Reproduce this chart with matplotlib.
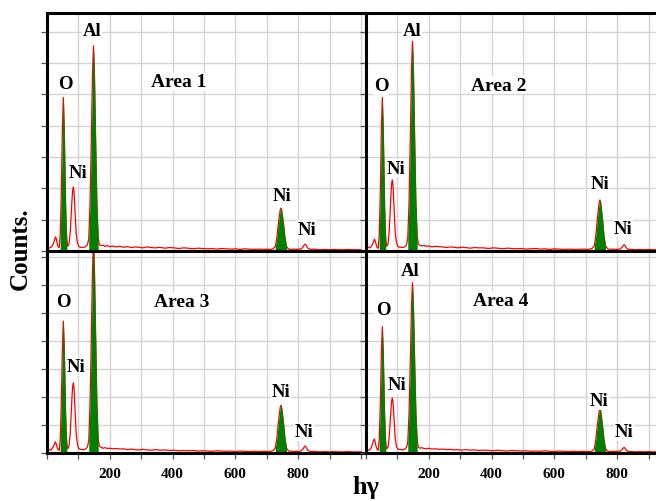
import matplotlib
matplotlib.use("Agg")
import matplotlib.pyplot as plt
import numpy as np

# ---------------- data ----------------
energy = [
    0, 4, 8, 12, 16, 20, 24, 27, 30, 33,
    36, 39, 42, 45, 47, 49, 52, 55, 57, 59,
    61, 63, 66, 70, 74, 77, 80, 82, 84, 86,
    88, 90, 93, 97, 101, 106, 112, 118, 124, 129,
    133, 137, 140, 143, 145, 148, 151, 153, 156, 159,
    163, 167, 172, 178, 185, 192, 200, 210, 220, 232,
    244, 256, 268, 280, 292, 305, 318, 332, 346, 360,
    375, 390, 405, 420, 435, 450, 465, 480, 495, 510,
    525, 540, 555, 570, 585, 600, 615, 630, 645, 660,
    675, 690, 702, 712, 720, 727, 732, 736, 740, 743,
    745, 747, 750, 754, 758, 763, 770, 778, 786, 794,
    802, 810, 815, 819, 822, 825, 829, 834, 840, 848,
    858, 870, 885, 900, 915, 930, 945, 960, 975, 990,
    1000]

counts_area1 = [
    0.06, 0.08, 0.10, 0.12, 0.15, 0.22, 0.35, 0.45, 0.38, 0.20,
    0.12, 0.12, 0.50, 1.60, 2.75, 3.90, 4.90, 3.90, 2.75, 1.60,
    0.80, 0.35, 0.15, 0.22, 0.60, 1.15, 1.70, 1.95, 2.04, 1.90,
    1.50, 1.05, 0.55, 0.25, 0.15, 0.12, 0.11, 0.12, 0.15, 0.20,
    0.40, 1.50, 2.95, 4.60, 5.70, 6.55, 5.70, 4.60, 2.95, 1.50,
    0.45, 0.20, 0.17, 0.19, 0.15, 0.17, 0.14, 0.16, 0.13, 0.15,
    0.12, 0.14, 0.11, 0.13, 0.12, 0.10, 0.13, 0.11, 0.10, 0.12,
    0.09, 0.11, 0.10, 0.08, 0.10, 0.09, 0.07, 0.09, 0.08, 0.07,
    0.08, 0.06, 0.08, 0.07, 0.06, 0.07, 0.05, 0.07, 0.06, 0.05,
    0.06, 0.05, 0.06, 0.05, 0.07, 0.14, 0.42, 0.80, 1.12, 1.32,
    1.37, 1.32, 1.12, 0.80, 0.42, 0.14, 0.06, 0.05, 0.06, 0.05,
    0.06, 0.07, 0.12, 0.19, 0.22, 0.19, 0.11, 0.07, 0.05, 0.06,
    0.05, 0.04, 0.05, 0.04, 0.05, 0.04, 0.04, 0.05, 0.04, 0.04,
    0.04]

counts_area2 = [
    0.08, 0.10, 0.12, 0.10, 0.14, 0.20, 0.30, 0.38, 0.30, 0.18,
    0.10, 0.09, 0.50, 1.60, 2.75, 3.90, 4.90, 3.90, 2.75, 1.60,
    0.80, 0.35, 0.15, 0.22, 0.65, 1.28, 1.90, 2.17, 2.27, 2.12,
    1.67, 1.17, 0.60, 0.27, 0.15, 0.12, 0.12, 0.11, 0.14, 0.20,
    0.41, 1.53, 3.02, 4.70, 5.83, 6.70, 5.83, 4.70, 3.02, 1.53,
    0.46, 0.22, 0.18, 0.16, 0.18, 0.15, 0.16, 0.13, 0.15, 0.14,
    0.13, 0.11, 0.13, 0.12, 0.10, 0.12, 0.11, 0.09, 0.11, 0.10,
    0.10, 0.08, 0.10, 0.09, 0.07, 0.09, 0.08, 0.07, 0.08, 0.06,
    0.07, 0.08, 0.06, 0.07, 0.05, 0.07, 0.06, 0.05, 0.06, 0.05,
    0.05, 0.06, 0.05, 0.06, 0.08, 0.16, 0.49, 0.95, 1.33, 1.57,
    1.63, 1.57, 1.33, 0.95, 0.49, 0.16, 0.07, 0.05, 0.06, 0.05,
    0.05, 0.07, 0.11, 0.17, 0.20, 0.17, 0.10, 0.06, 0.05, 0.05,
    0.04, 0.05, 0.04, 0.05, 0.04, 0.04, 0.05, 0.04, 0.04, 0.03,
    0.04]

counts_area3 = [
    0.07, 0.09, 0.12, 0.10, 0.15, 0.22, 0.32, 0.40, 0.30, 0.18,
    0.11, 0.10, 0.48, 1.55, 2.65, 3.75, 4.70, 3.75, 2.65, 1.55,
    0.77, 0.34, 0.15, 0.24, 0.70, 1.40, 2.08, 2.39, 2.50, 2.33,
    1.84, 1.29, 0.67, 0.30, 0.16, 0.13, 0.12, 0.12, 0.15, 0.22,
    0.45, 1.73, 3.42, 5.34, 6.61, 7.60, 6.61, 5.34, 3.42, 1.73,
    0.50, 0.24, 0.20, 0.17, 0.19, 0.16, 0.17, 0.15, 0.16, 0.14,
    0.15, 0.12, 0.14, 0.12, 0.11, 0.13, 0.11, 0.10, 0.12, 0.10,
    0.11, 0.09, 0.10, 0.08, 0.09, 0.08, 0.09, 0.07, 0.08, 0.07,
    0.06, 0.08, 0.07, 0.06, 0.07, 0.05, 0.07, 0.06, 0.05, 0.06,
    0.05, 0.06, 0.05, 0.06, 0.08, 0.17, 0.52, 0.99, 1.39, 1.64,
    1.70, 1.64, 1.39, 0.99, 0.52, 0.17, 0.07, 0.06, 0.05, 0.06,
    0.05, 0.08, 0.14, 0.21, 0.25, 0.21, 0.12, 0.07, 0.05, 0.06,
    0.05, 0.04, 0.05, 0.04, 0.05, 0.04, 0.04, 0.05, 0.04, 0.04,
    0.04]

counts_area4 = [
    0.06, 0.08, 0.10, 0.12, 0.18, 0.30, 0.45, 0.50, 0.35, 0.20,
    0.12, 0.10, 0.46, 1.48, 2.53, 3.58, 4.50, 3.58, 2.53, 1.48,
    0.74, 0.33, 0.15, 0.20, 0.58, 1.10, 1.63, 1.87, 1.96, 1.83,
    1.44, 1.01, 0.53, 0.24, 0.14, 0.13, 0.12, 0.11, 0.14, 0.20,
    0.38, 1.40, 2.74, 4.26, 5.28, 6.07, 5.28, 4.26, 2.74, 1.40,
    0.43, 0.20, 0.17, 0.19, 0.16, 0.15, 0.17, 0.14, 0.15, 0.13,
    0.14, 0.12, 0.13, 0.11, 0.12, 0.10, 0.12, 0.10, 0.11, 0.09,
    0.10, 0.09, 0.08, 0.10, 0.08, 0.07, 0.09, 0.08, 0.07, 0.08,
    0.06, 0.07, 0.06, 0.08, 0.06, 0.05, 0.07, 0.06, 0.05, 0.06,
    0.05, 0.06, 0.05, 0.05, 0.07, 0.15, 0.48, 0.92, 1.28, 1.52,
    1.57, 1.52, 1.28, 0.92, 0.48, 0.15, 0.06, 0.05, 0.06, 0.05,
    0.06, 0.07, 0.11, 0.17, 0.20, 0.17, 0.10, 0.06, 0.05, 0.05,
    0.04, 0.05, 0.04, 0.05, 0.04, 0.04, 0.05, 0.04, 0.04, 0.04,
    0.04]

area_names = ["Area 1", "Area 2", "Area 3", "Area 4"]
# energy windows of the green (filled) peaks: O, Al, Ni K-alpha
green_windows = [(40, 64), (133, 165), (725, 768)]
x_tick_values = [0, 100, 200, 300, 400, 500, 600, 700, 800, 900, 1000]
x_tick_labels = ["", "", "200", "", "400", "", "600", "", "800", "", ""]
y_tick_values = [0, 1, 2, 3, 4, 5, 6, 7]

# peak labels per panel: (text, x, y)
labels_area1 = [("Al", 144, 7.03), ("O", 57, 5.34), ("Ni", 99, 2.52),
                ("Ni", 748, 1.76), ("Ni", 827, 0.70)]
labels_area2 = [("Al", 147, 7.03), ("O", 48, 5.27), ("Ni", 96, 2.65),
                ("Ni", 744, 2.17), ("Ni", 818, 0.73)]
labels_area3 = [("O", 51, 5.39), ("Ni", 93, 3.07),
                ("Ni", 744, 2.18), ("Ni", 818, 0.75)]
labels_area4 = [("Al", 140, 6.50), ("O", 54, 5.10), ("Ni", 99, 2.43),
                ("Ni", 741, 1.86), ("Ni", 821, 0.75)]
area_text_pos = [(418, 5.40), (422, 5.30), (428, 5.39), (428, 5.43)]

# ---------------- figure ----------------
W, H = 656, 502
fig = plt.figure(figsize=(W / 100, H / 100), dpi=100)
fig.patch.set_facecolor("white")

serif = ["Liberation Serif", "DejaVu Serif"]

def frac(x0, ytop, w, h):
    return [x0 / W, (H - ytop - h) / H, w / W, h / H]

panel_w = 319
ax1 = fig.add_axes(frac(47, 14, panel_w, 238))
ax2 = fig.add_axes(frac(366, 14, panel_w, 238))
ax3 = fig.add_axes(frac(47, 252, panel_w, 202))
ax4 = fig.add_axes(frac(366, 252, panel_w, 202))

axes = [ax1, ax2, ax3, ax4]
data = [counts_area1, counts_area2, counts_area3, counts_area4]
labels = [labels_area1, labels_area2, labels_area3, labels_area4]
ylims = [7.6, 7.6, 7.2, 7.2]

e = np.array(energy)
for i, ax in enumerate(axes):
    c = np.array(data[i])
    ax.set_xlim(0, 1016)
    ax.set_ylim(0, ylims[i])
    ax.set_xticks(x_tick_values)
    ax.set_yticks(y_tick_values)
    ax.set_yticklabels([])
    if i >= 2:
        ax.set_xticklabels(x_tick_labels, fontfamily=serif,
                           fontweight="bold", fontsize=11)
    else:
        ax.set_xticklabels([])
    ax.tick_params(axis="both", direction="out", length=4, width=0.9,
                   color="#555555", pad=6)
    ax.grid(True, color="#d4d4d4", linewidth=1.0, zorder=0)
    ax.set_axisbelow(True)
    for s in ax.spines.values():
        s.set_linewidth(2.2)
        s.set_color("black")
        s.set_zorder(6)

    ax.plot(e, c, color="#ff0000", linewidth=0.9, zorder=3)
    for lo, hi in green_windows:
        m = (e >= lo) & (e <= hi)
        ax.fill_between(e, c, 0, where=m, color="#008000",
                        linewidth=0, zorder=4)

    for txt, x, y in labels[i]:
        ax.text(x, y, txt, ha="center", va="center", fontsize=13.5,
                fontweight="bold", family=serif, zorder=7,
                bbox=dict(facecolor="white", edgecolor="none", pad=0.5))
    ax.text(area_text_pos[i][0], area_text_pos[i][1], area_names[i],
            ha="center", va="center", fontsize=14, fontweight="bold",
            family=serif, zorder=7,
            bbox=dict(facecolor="white", edgecolor="none", pad=0.5))

fig.text(20 / W, 1 - 249 / H, "Counts.", rotation=90, ha="center",
         va="center", fontsize=18, fontweight="bold", family=serif)
fig.text(366 / W, 1 - 488 / H, "h\u03b3", ha="center", va="center",
         fontsize=19, fontweight="bold", family=serif)

fig.savefig("out.png", dpi=100, facecolor="white")
